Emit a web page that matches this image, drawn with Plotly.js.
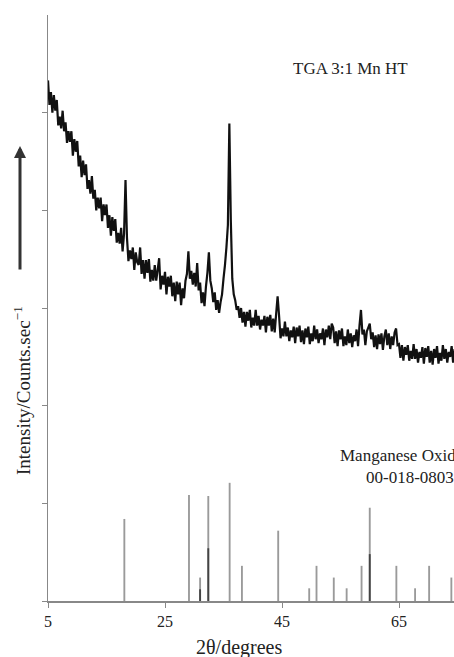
<!DOCTYPE html>
<html>
<head>
<meta charset="utf-8">
<script src="https://cdn.plot.ly/plotly-3.0.1.min.js"></script>
<style>html,body{margin:0;padding:0;background:#fff;}#chart{width:454px;height:657px;}</style>
</head>
<body>
<div id="chart"></div>
<script>
// XRD scan: start angle and step (degrees 2θ)
const scanStart = 5.0;
const scanStep = 0.25;
const intensity = [
5.33,5.08,5.21,5.00,5.18,5.02,5.13,4.87,4.96,4.84,5.02,4.81,4.90,4.69,4.81,4.70,
4.81,4.56,4.73,4.60,4.71,4.45,4.56,4.34,4.51,4.36,4.47,4.22,4.31,4.17,4.35,4.12,
4.21,4.00,4.13,4.02,4.13,3.89,4.06,3.95,4.06,3.82,3.95,3.74,3.93,3.79,3.91,3.67,
3.77,3.66,3.82,3.58,3.76,4.31,3.72,3.48,3.59,3.50,3.62,3.39,3.57,3.47,3.44,3.62,
3.35,3.49,3.30,3.49,3.36,3.50,3.27,3.39,3.28,3.44,3.28,3.39,3.51,3.19,3.33,3.24,
3.37,3.14,3.32,3.22,3.33,3.12,3.26,3.07,3.27,3.14,3.26,3.03,3.20,3.10,3.28,3.35,
3.58,3.30,3.38,3.24,3.36,3.22,3.46,3.18,3.26,3.05,3.16,3.02,3.22,3.36,3.57,3.28,
3.20,3.06,3.16,2.98,3.08,2.95,3.06,3.14,3.30,3.44,3.62,3.85,4.89,3.90,3.30,3.14,
3.08,2.98,3.02,2.90,3.00,2.85,2.96,2.81,2.96,2.87,2.98,2.80,2.90,2.82,2.98,2.82,
2.92,2.78,2.88,2.82,2.92,2.75,2.91,2.82,2.93,2.76,2.89,2.75,2.94,3.12,2.92,2.69,
2.79,2.71,2.86,2.71,2.80,2.66,2.77,2.70,2.81,2.64,2.80,2.71,2.82,2.65,2.77,2.63,
2.79,2.70,2.81,2.63,2.74,2.66,2.82,2.68,2.78,2.64,2.74,2.68,2.79,2.62,2.78,2.70,
2.82,2.68,2.84,2.80,2.64,2.76,2.61,2.77,2.68,2.79,2.61,2.71,2.62,2.78,2.64,2.74,
2.60,2.72,2.66,2.78,2.61,2.82,2.98,2.73,2.78,2.62,2.76,2.80,2.84,2.68,2.75,2.60,
2.72,2.58,2.73,2.63,2.74,2.57,2.71,2.78,2.62,2.74,2.58,2.71,2.62,2.75,2.79,2.62,
2.63,2.49,2.62,2.46,2.60,2.52,2.62,2.46,2.56,2.48,2.63,2.48,2.58,2.44,2.55,2.49,
2.60,2.43,2.59,2.50,2.61,2.44,2.56,2.42,2.58,2.49,2.61,2.43,2.54,2.46,2.62,2.48,
2.58,2.44,2.55,2.50,2.61,2.44,2.58
];
// reference pattern: Manganese Oxide 00-018-0803
const refPos    = [18.05,29.1,31.0,32.4,36.05,38.15,44.35,49.65,50.9,53.85,56.05,58.6,60.0,64.55,67.75,70.15,73.95];
const refHeight = [0.84,1.085,0.24,1.075,1.21,0.36,0.72,0.13,0.36,0.24,0.13,0.36,0.955,0.36,0.13,0.36,0.24];
// darker overlaid sticks
const darkPos    = [31.0,32.4,60.0];
const darkHeight = [0.12,0.54,0.48];

const xTicks = [5,25,45,65];
const yTicks = [0,1,2,3,4,5];

const angles = intensity.map((_, i) => scanStart + i * scanStep);

const serif = '"Liberation Serif","Times New Roman",serif';
const W = 454, H = 657, L = 48, T = 15, B = 56;
const plotW = W - L, plotH = H - T - B;
const px = x => (x - L) / plotW;
const py = y => (H - B - y) / plotH;

const traces = [
  {type:'bar', x: refPos, y: refHeight, width: 0.32, marker:{color:'#9a9a9a', line:{width:0}}, hoverinfo:'skip'},
  {type:'bar', x: darkPos, y: darkHeight, width: 0.32, marker:{color:'#444', line:{width:0}}, hoverinfo:'skip'},
  {type:'scatter', mode:'lines', x: angles, y: intensity, line:{color:'#111', width:2.2, simplify:false, shape:'linear'}, hoverinfo:'skip'}
];

const layout = {
  width: W, height: H,
  margin: {l: L, r: 0, t: T, b: B, pad: 0},
  paper_bgcolor: '#fff', plot_bgcolor: '#fff',
  showlegend: false,
  barmode: 'overlay',
  font: {family: serif, color: '#222', size: 16},
  xaxis: {
    range: [5, 5 + plotW / 5.85], tickvals: xTicks, ticktext: xTicks.map(String),
    ticks: 'outside', ticklen: 5, tickcolor: '#888', tickwidth: 1,
    showline: true, linecolor: '#888', linewidth: 1.5, showgrid: false, zeroline: false,
    tickfont: {family: serif, size: 16, color: '#222'}
  },
  yaxis: {
    range: [0, 6], tickvals: yTicks, showticklabels: false,
    ticks: 'outside', ticklen: 5, tickcolor: '#888', tickwidth: 1,
    showline: true, linecolor: '#888', linewidth: 1.5, showgrid: false, zeroline: false
  },
  annotations: [
    {xref:'paper', yref:'paper', x: px(350), y: py(68), text:'TGA 3:1 Mn HT', showarrow:false, xanchor:'center', yanchor:'middle', font:{family: serif, size:17, color:'#222'}},
    {xref:'paper', yref:'paper', x: px(338), y: py(455), text:'Manganese Oxide', showarrow:false, xanchor:'left', yanchor:'middle', font:{family: serif, size:17, color:'#222'}},
    {xref:'paper', yref:'paper', x: px(364), y: py(477), text:'00-018-0803', showarrow:false, xanchor:'left', yanchor:'middle', font:{family: serif, size:17, color:'#222'}},
    {xref:'paper', yref:'paper', x: px(238.5), y: py(647), text:'2θ/degrees', showarrow:false, xanchor:'center', yanchor:'middle', font:{family: serif, size:20, color:'#222'}},
    {xref:'paper', yref:'paper', x: px(22), y: py(391), text:'Intensity/Counts.sec<sup>−1</sup>', textangle:-90, showarrow:false, xanchor:'center', yanchor:'middle', font:{family: serif, size:19, color:'#222'}},
    {xref:'paper', yref:'paper', x: px(20), y: py(146), text:'', showarrow:true, axref:'pixel', ayref:'pixel', ax:0, ay:125, arrowhead:2, arrowsize:0.8, arrowwidth:3, arrowcolor:'#333'}
  ]
};

Plotly.newPlot('chart', traces, layout, {staticPlot: true, displayModeBar: false});
</script>
</body>
</html>
